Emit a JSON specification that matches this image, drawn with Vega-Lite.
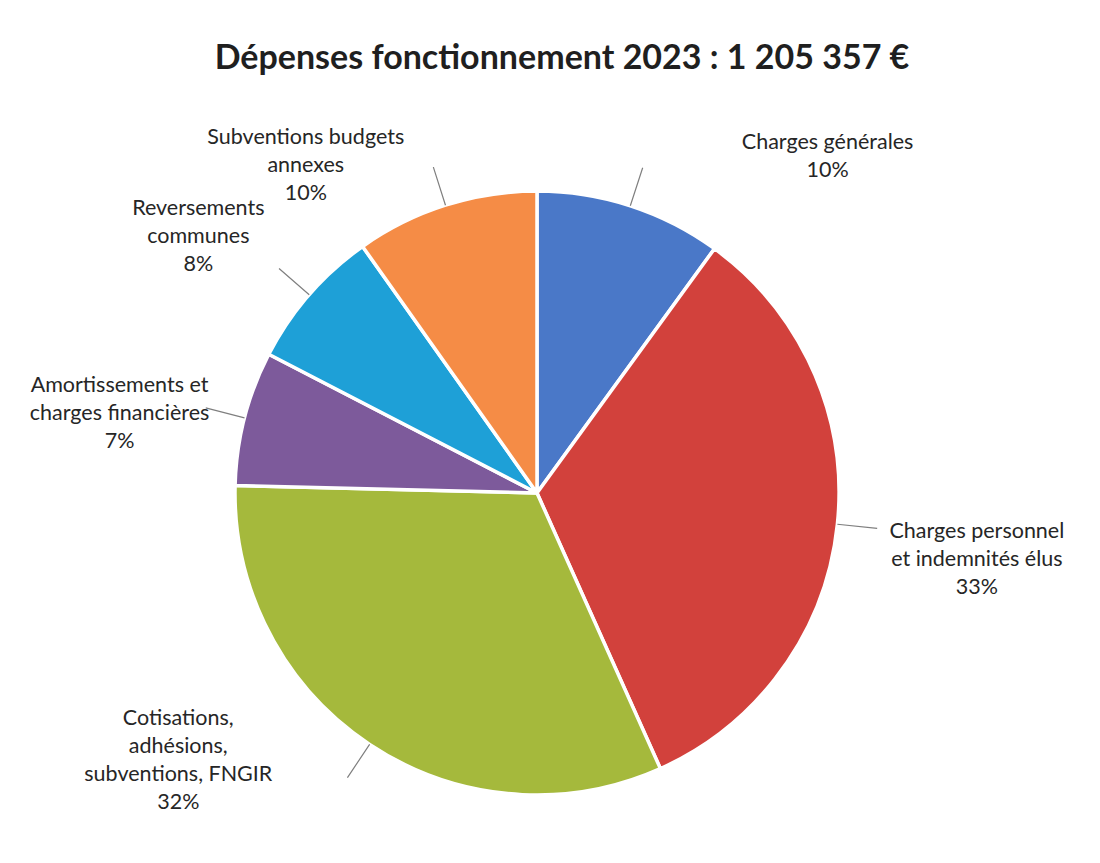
{
  "$schema": "https://vega.github.io/schema/vega-lite/v6.json",
  "width": 1074,
  "height": 700,
  "autosize": {"type": "none"},
  "padding": {"left": 0, "right": 26, "top": 143, "bottom": 20},
  "background": "white",
  "title": {
    "text": "Dépenses fonctionnement 2023 : 1 205 357 €",
    "font": "Lato",
    "fontSize": 34,
    "fontWeight": "bold",
    "color": "#1f1f1f",
    "anchor": "middle",
    "dx": 25,
    "offset": -82
  },
  "data": {
    "values": [
      {"ordre": 1, "poste": "Charges générales", "part": 10.0, "etiquette": ["Charges générales", "10%"]},
      {"ordre": 2, "poste": "Charges personnel et indemnités élus", "part": 33.3, "etiquette": ["Charges personnel", "et indemnités élus", "33%"]},
      {"ordre": 3, "poste": "Cotisations, adhésions, subventions, FNGIR", "part": 32.1, "etiquette": ["Cotisations,", "adhésions,", "subventions, FNGIR", "32%"]},
      {"ordre": 4, "poste": "Amortissements et charges financières", "part": 7.2, "etiquette": ["Amortissements et", "charges financières", "7%"]},
      {"ordre": 5, "poste": "Reversements communes", "part": 7.6, "etiquette": ["Reversements", "communes", "8%"]},
      {"ordre": 6, "poste": "Subventions budgets annexes", "part": 9.8, "etiquette": ["Subventions budgets", "annexes", "10%"]}
    ]
  },
  "encoding": {
    "theta": {"field": "part", "type": "quantitative", "stack": true},
    "order": {"field": "ordre", "type": "quantitative", "sort": "ascending"}
  },
  "layer": [
    {
      "mark": {"type": "arc", "radius": 302, "stroke": "white", "strokeWidth": 3.5},
      "encoding": {
        "color": {
          "field": "poste",
          "type": "nominal",
          "legend": null,
          "scale": {
            "domain": ["Charges générales", "Charges personnel et indemnités élus", "Cotisations, adhésions, subventions, FNGIR", "Amortissements et charges financières", "Reversements communes", "Subventions budgets annexes"],
            "range": ["#4A78C8", "#D2413C", "#A5B93C", "#7D5A9B", "#1EA0D7", "#F58C46"]
          }
        }
      }
    },
    {
      "mark": {"type": "arc", "radius": 342, "radius2": 302, "padAngle": 2.5, "filled": false, "stroke": "#7f7f7f", "strokeWidth": 1.2}
    },
    {
      "mark": {"type": "text", "radius": 400, "dx": 167, "dy": 30, "font": "Lato", "fontSize": 21.5, "lineHeight": 28, "align": "center", "baseline": "middle", "color": "#262626"},
      "encoding": {"text": {"condition": {"test": "datum.ordre === 1", "field": "etiquette", "type": "nominal"}, "value": ""}}
    },
    {
      "mark": {"type": "text", "radius": 400, "dx": 42, "dy": -2, "font": "Lato", "fontSize": 21.5, "lineHeight": 28, "align": "center", "baseline": "middle", "color": "#262626"},
      "encoding": {"text": {"condition": {"test": "datum.ordre === 2", "field": "etiquette", "type": "nominal"}, "value": ""}}
    },
    {
      "mark": {"type": "text", "radius": 400, "dx": -137, "dy": -107, "font": "Lato", "fontSize": 21.5, "lineHeight": 28, "align": "center", "baseline": "middle", "color": "#262626"},
      "encoding": {"text": {"condition": {"test": "datum.ordre === 3", "field": "etiquette", "type": "nominal"}, "value": ""}}
    },
    {
      "mark": {"type": "text", "radius": 400, "dx": -30, "dy": -8, "font": "Lato", "fontSize": 21.5, "lineHeight": 28, "align": "center", "baseline": "middle", "color": "#262626"},
      "encoding": {"text": {"condition": {"test": "datum.ordre === 4", "field": "etiquette", "type": "nominal"}, "value": ""}}
    },
    {
      "mark": {"type": "text", "radius": 400, "dx": -37, "dy": -21, "font": "Lato", "fontSize": 21.5, "lineHeight": 28, "align": "center", "baseline": "middle", "color": "#262626"},
      "encoding": {"text": {"condition": {"test": "datum.ordre === 5", "field": "etiquette", "type": "nominal"}, "value": ""}}
    },
    {
      "mark": {"type": "text", "radius": 400, "dx": -110, "dy": 26, "font": "Lato", "fontSize": 21.5, "lineHeight": 28, "align": "center", "baseline": "middle", "color": "#262626"},
      "encoding": {"text": {"condition": {"test": "datum.ordre === 6", "field": "etiquette", "type": "nominal"}, "value": ""}}
    }
  ]
}
